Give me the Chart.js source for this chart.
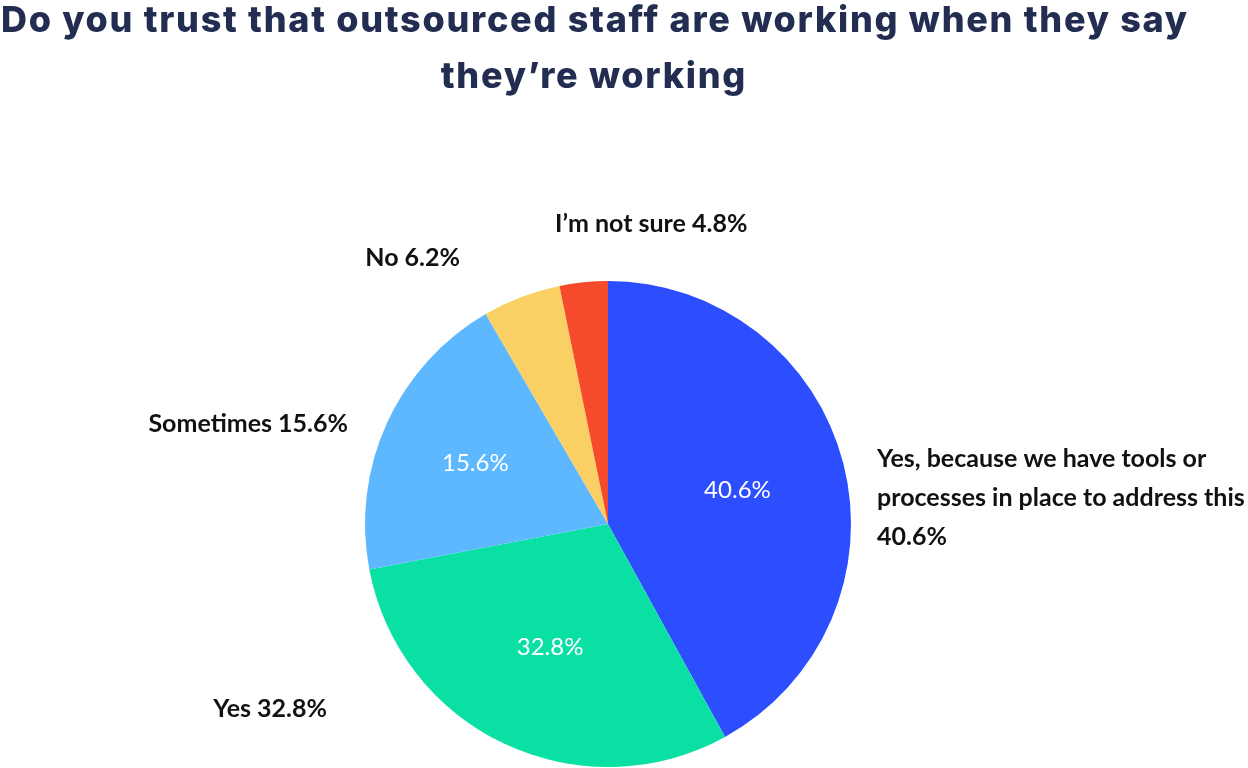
<!DOCTYPE html>
<html>
<head>
<meta charset="utf-8">
<script src="https://cdn.jsdelivr.net/npm/chart.js@4"></script>
<style>
  html, body { margin: 0; padding: 0; background: #fff; }
  #myChart { display: block; }
</style>
</head>
<body>
<canvas id="myChart" width="1248" height="768"></canvas>
<script>
// data
const categories = ["Yes, because we have tools or processes in place to address this", "Yes", "Sometimes", "No", "I’m not sure"];
const shownPct = [40.6, 32.8, 15.6, 6.2, 4.8];      // numbers printed on the chart
const sliceShare = [42.0, 30.0, 19.6, 5.2, 3.2];    // share of the circle as drawn
const sliceColors = ["#2d4eff", "#0be0a4", "#5eb8ff", "#facf63", "#f54a2b"];
const titleLines = ["Do you trust that outsourced staff are working when they say", "they’re working"];

// outside label text, split in lines
const outsideText = [
  ["Yes, because we have tools or", "processes in place to address this", shownPct[0] + "%"],
  [categories[1] + " " + shownPct[1] + "%"],
  [categories[2] + " " + shownPct[2] + "%"],
  [categories[3] + " " + shownPct[3] + "%"],
  [categories[4] + " " + shownPct[4] + "%"],
];

// where each outside label sits, relative to the pie centre
const outsidePos = [
  { dx: 269, dy: -57, align: "left" },
  { dx: -281, dy: 193, align: "right" },
  { dx: -260, dy: -92, align: "right" },
  { dx: -148, dy: -258, align: "right" },
  { dx: -53, dy: -292, align: "left" },
];
const insideFrac = [0.55, 0.56, 0.6];

const labelPlugin = {
  id: "pieLabels",
  afterDraw(chart) {
    const ctx = chart.ctx;
    const arcs = chart.getDatasetMeta(0).data;
    const cx = arcs[0].x, cy = arcs[0].y, r = arcs[0].outerRadius;

    ctx.save();
    // title, slightly spaced out to the width of the original
    ctx.fillStyle = "#232d52";
    ctx.textAlign = "center";
    ctx.textBaseline = "alphabetic";
    ctx.font = "800 36px Inter";
    const w = ctx.measureText(titleLines[0]).width;
    const gap = Math.max(0, (1186 - w) / (titleLines[0].length - 1));
    ctx.letterSpacing = gap.toFixed(2) + "px";
    ctx.fillText(titleLines[0], 594 + gap / 2, 32);
    ctx.fillText(titleLines[1], 593 + gap / 2, 88);
    ctx.letterSpacing = "0px";

    // values inside the big slices
    ctx.fillStyle = "#ffffff";
    ctx.font = "400 24px Lato";
    ctx.textBaseline = "middle";
    insideFrac.forEach((f, i) => {
      const a = arcs[i];
      const mid = (a.startAngle + a.endAngle) / 2;
      ctx.fillText(shownPct[i] + "%", cx + Math.cos(mid) * r * f, cy + Math.sin(mid) * r * f);
    });

    // outside labels
    ctx.fillStyle = "#111111";
    ctx.font = "700 25px Lato";
    ctx.textBaseline = "alphabetic";
    outsideText.forEach((lines, i) => {
      const p = outsidePos[i];
      ctx.textAlign = p.align;
      lines.forEach((ln, j) => {
        ctx.fillText(ln, cx + p.dx, cy + p.dy + j * 39);
      });
    });
    ctx.restore();
  }
};

const config = {
  type: "pie",
  data: {
    labels: categories,
    datasets: [{
      data: sliceShare,
      backgroundColor: sliceColors,
      borderWidth: 0,
    }],
  },
  options: {
    responsive: false,
    animation: false,
    layout: { padding: { left: 365, right: 397, top: 281, bottom: 1 } },
    plugins: {
      legend: { display: false },
      title: { display: false },
      tooltip: { enabled: false },
    },
  },
  plugins: [labelPlugin],
};

const myChart = new Chart(document.getElementById("myChart"), config);
</script>
</body>
</html>
